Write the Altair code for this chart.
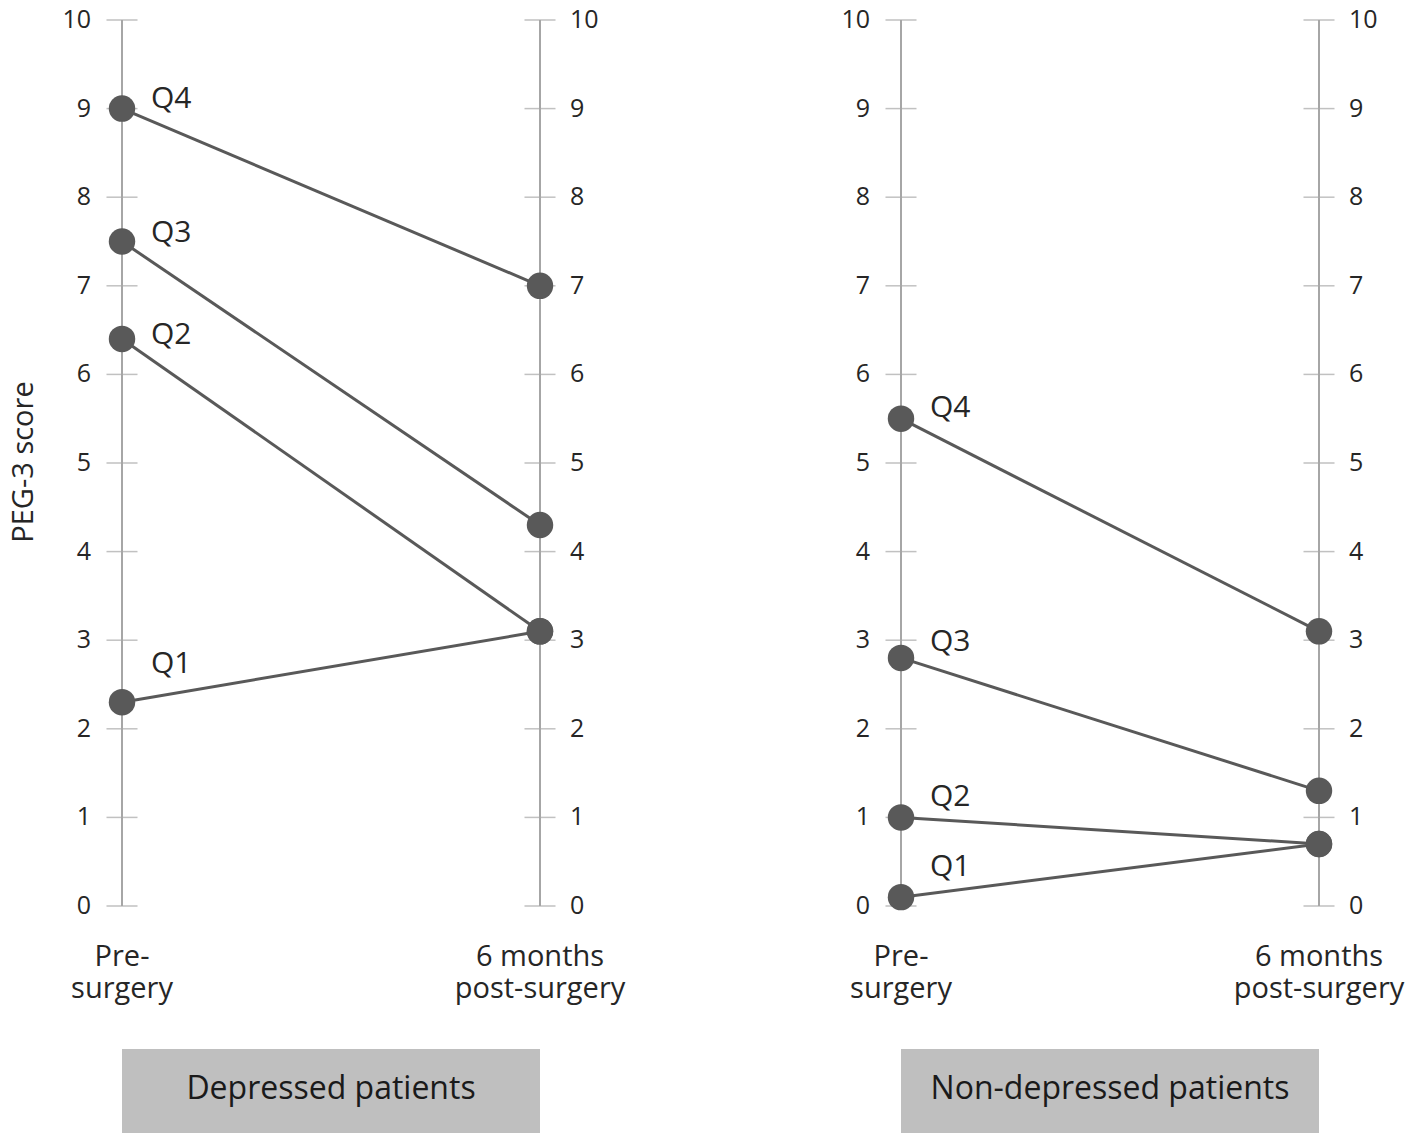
import altair as alt
import pandas as pd

quartiles = ["Q1", "Q2", "Q3", "Q4"]
timepoints = ["Pre-surgery", "6 months post-surgery"]
time_labels = ["Pre-\nsurgery", "6 months\npost-surgery"]
groups = ["Depressed patients", "Non-depressed patients"]

dep_pre = [2.3, 6.4, 7.5, 9.0]
dep_post = [3.1, 3.1, 4.3, 7.0]
non_pre = [0.1, 1.0, 2.8, 5.5]
non_post = [0.7, 0.7, 1.3, 3.1]

tick_values = list(range(0, 11))

W = 418
H = 886
FONT = "Open Sans"
DARK = "#595959"
AXIS = "#a6a6a6"
TXT = "#262626"

# vertical nudges (px) of the quartile labels, as placed in the original figure
DEP_LABEL_DY = {"Q1": -38, "Q2": -4, "Q3": -9, "Q4": -10}
NON_LABEL_DY = {"Q1": -30, "Q2": -20, "Q3": -16, "Q4": -11}


def panel(pre, post, group, label_dy, show_title):
    rows = []
    for q, a, b in zip(quartiles, pre, post):
        rows.append({"quartile": q, "time": timepoints[0], "score": a})
        rows.append({"quartile": q, "time": timepoints[1], "score": b})
    df = pd.DataFrame(rows)
    pre_df = df[df["time"] == timepoints[0]]

    ticks = pd.DataFrame(
        [{"time": t, "value": v, "side": i} for i, t in enumerate(timepoints) for v in tick_values]
    )
    axis_df = pd.DataFrame({"time": timepoints, "lo": [0, 0], "hi": [10, 10], "label": time_labels})
    group_df = pd.DataFrame({"group": [group]})

    x = alt.X("time:N", scale=alt.Scale(type="point", domain=timepoints, padding=0), axis=None)
    yscale = alt.Scale(domain=[0, 10], nice=False, zero=True)

    axis_lines = alt.Chart(axis_df).mark_rule(color=AXIS, strokeWidth=2).encode(
        x=x, y=alt.Y("lo:Q", scale=yscale, axis=None), y2="hi:Q"
    )
    tick_marks = alt.Chart(ticks).mark_tick(orient="horizontal", size=31, thickness=1.5, color=AXIS).encode(
        x=x, y=alt.Y("value:Q", scale=yscale, axis=None)
    )
    left_labels = alt.Chart(ticks[ticks["side"] == 0]).mark_text(
        align="right", baseline="middle", dx=-31, fontSize=25, font=FONT, color=TXT
    ).encode(x=x, y=alt.Y("value:Q", scale=yscale, axis=None), text="value:Q")
    right_labels = alt.Chart(ticks[ticks["side"] == 1]).mark_text(
        align="left", baseline="middle", dx=30, fontSize=25, font=FONT, color=TXT
    ).encode(x=x, y=alt.Y("value:Q", scale=yscale, axis=None), text="value:Q")

    lines = alt.Chart(df).mark_line(color=DARK, strokeWidth=3).encode(
        x=x, y=alt.Y("score:Q", scale=yscale, axis=None), detail="quartile:N"
    )
    points = alt.Chart(df).mark_circle(size=700, color=DARK, opacity=1).encode(
        x=x, y=alt.Y("score:Q", scale=yscale, axis=None)
    )
    qlabels = [
        alt.Chart(pre_df[pre_df["quartile"] == q]).mark_text(
            align="left", baseline="middle", dx=29, dy=label_dy[q], fontSize=30, font=FONT, color=TXT
        ).encode(x=x, y=alt.Y("score:Q", scale=yscale, axis=None), text="quartile:N")
        for q in quartiles
    ]

    time_text = alt.Chart(axis_df).mark_text(
        align="center", baseline="top", fontSize=29, font=FONT, color=TXT, lineBreak="\n", lineHeight=32
    ).encode(x=x, y=alt.value(H + 37), text="label:N")

    box = alt.Chart(group_df).mark_rect(color="#bfbfbf").encode(
        x=alt.value(0), x2=alt.value(W), y=alt.value(H + 143), y2=alt.value(H + 227)
    )
    box_text = alt.Chart(group_df).mark_text(
        align="center", baseline="middle", fontSize=32, font=FONT, color="#1a1a1a"
    ).encode(x=alt.value(W / 2), y=alt.value(H + 183), text="group:N")

    layers = [axis_lines, tick_marks, left_labels, right_labels, lines, points] + qlabels + [time_text, box, box_text]
    if show_title:
        title = alt.Chart(pd.DataFrame({"t": ["PEG-3 score"]})).mark_text(
            angle=270, align="center", baseline="middle", fontSize=29, font=FONT, color=TXT
        ).encode(x=alt.value(-98), y=alt.value(442), text="t:N")
        layers.append(title)
    return alt.layer(*layers).properties(width=W, height=H)


p1 = panel(dep_pre, dep_post, groups[0], DEP_LABEL_DY, True)
p2 = panel(non_pre, non_post, groups[1], NON_LABEL_DY, False)

chart = alt.hconcat(p1, p2, spacing=361, bounds="flush").configure_view(stroke=None).properties(
    padding={"left": 2, "top": 0, "right": 5, "bottom": 0}
)

chart.save("out.html", embed_options={"renderer": "svg", "actions": False})
